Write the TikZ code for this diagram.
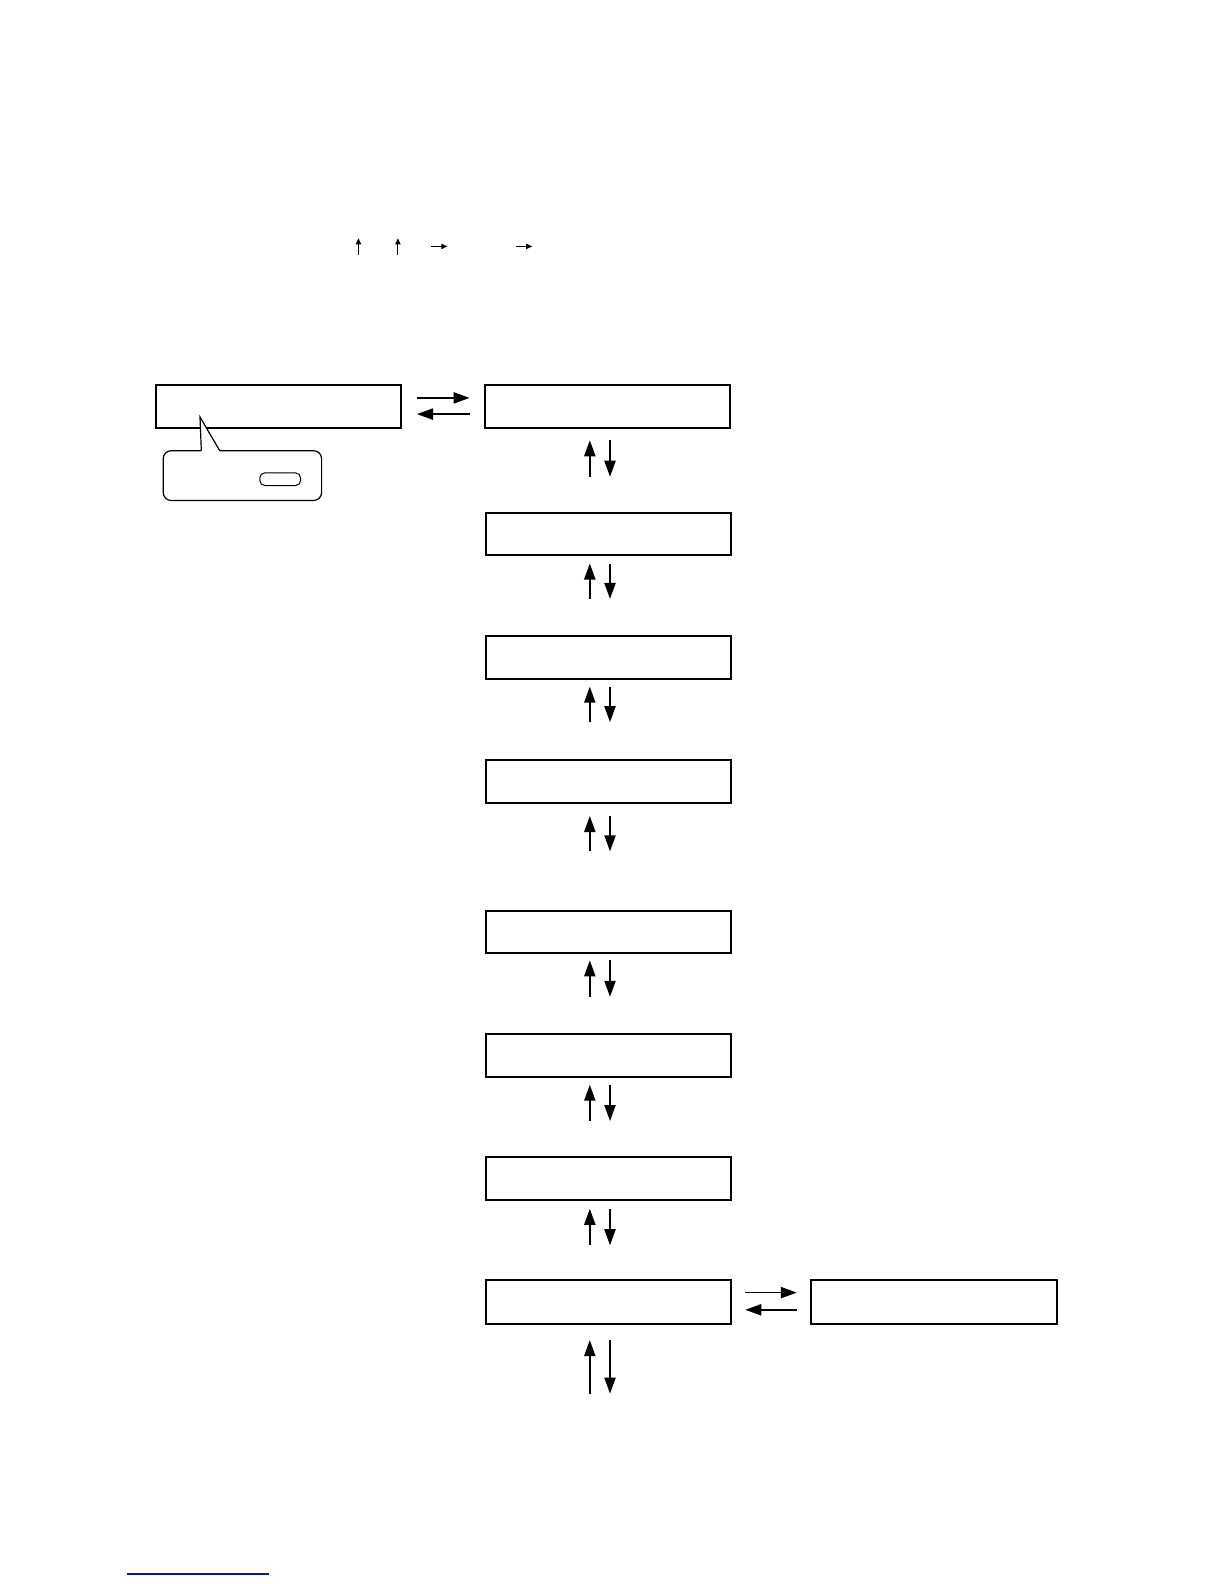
\documentclass[tikz,border=0pt]{standalone}
\usetikzlibrary{arrows.meta}

\tikzstyle{screen} = [draw, line width=1pt, minimum width=122.7pt, minimum height=21.4pt, inner sep=0pt]
\tikzstyle{arr} = [line width=0.8pt, -{Triangle[length=8pt,width=5.6pt]}]
\tikzstyle{tinyarr} = [line width=0.5pt, -{Triangle[length=3pt,width=2.6pt]}]
\tikzstyle{bubble} = [draw, line width=0.6pt, rounded corners=4pt, minimum width=79.2pt, minimum height=24.9pt, inner sep=0pt]
\tikzstyle{key} = [draw, line width=0.5pt, rounded corners=2.5pt, minimum width=20.4pt, minimum height=6.3pt, inner sep=0pt]

\begin{document}
\begin{tikzpicture}[x=0.5pt, y=-0.5pt]
\useasboundingbox (0,0) rectangle (1224,1584);
%key arrows in the heading line
\draw[tinyarr] (358.5,254.5) -- (358.5,238.3);
\draw[tinyarr] (397.9,254.5) -- (397.9,238.3);
\draw[tinyarr] (431.2,246.4) -- (447.4,246.4);
\draw[tinyarr] (516,246.4) -- (532.2,246.4);
%begin top row
\node[screen] (b1) at (278.2,406.8) {};
\node[screen] (b2) at (607.4,406.8) {};
\draw[arr] (417,397.9) -- (469.6,397.9);
\draw[arr] (469.6,414.1) -- (417,414.1);
%end top row
%begin callout
\node[bubble] (tip) at (242.4,475.6) {};
\node[key] (btn) at (280.2,479.2) {};
\fill[white] (201.3,452) -- (200,417) -- (219.7,452) -- cycle;
\draw[line width=0.6pt] (201.3,450.6) -- (200,417) -- (219.7,450.6);
%end callout
%begin column
\node[screen] (b3) at (608.5,534) {};
\node[screen] (b4) at (608.5,657.2) {};
\node[screen] (b5) at (608.5,781.4) {};
\node[screen] (b6) at (608.5,932) {};
\node[screen] (b7) at (608.5,1055.1) {};
\node[screen] (b8) at (608.5,1178.3) {};
\node[screen, minimum height=21.7pt] (b9) at (608.5,1301.8) {};
\node[screen, minimum height=21.7pt] (b10) at (934.1,1301.8) {};
\draw[arr] (745.3,1292.6) -- (796.8,1292.6);
\draw[arr] (796.8,1309.8) -- (745.3,1309.8);
%end column
%up and down arrows under each screen
\foreach \ya/\yb in {440.3/476.7, 563.5/598.9, 686.7/722.1, 816/851.3, 960.4/996.8, 1084.7/1121, 1208.8/1245.2, 1340.1/1393.6}
{
    \draw[arr] (589.8,\yb) -- (589.8,\ya);
    \draw[arr] (610,\ya) -- (610,\yb);
}
%link underline
\draw[line width=0.6pt, color={rgb,255:red,20;green,20;blue,140}] (127,1574) -- (269,1574);
\end{tikzpicture}
\end{document}
